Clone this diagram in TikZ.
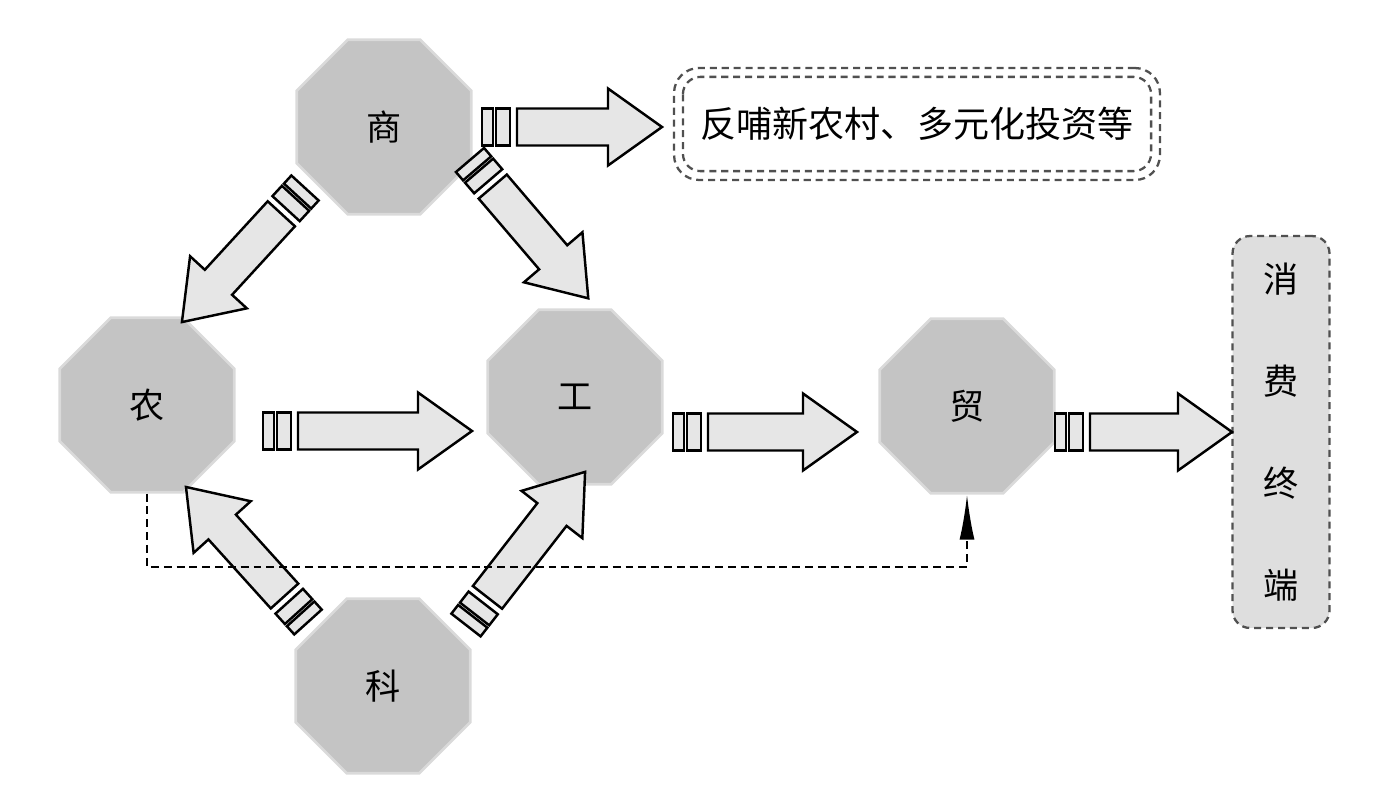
\documentclass[tikz,border=0pt]{standalone}
\usepackage{fontspec}
\newfontfamily\cjk{Noto Sans CJK SC}
\usetikzlibrary{shapes.geometric,arrows.meta}

\definecolor{octfill}{HTML}{C4C4C4}
\definecolor{octrim}{HTML}{DADADA}
\definecolor{arrfill}{HTML}{E6E6E6}
\definecolor{boxfill}{HTML}{DEDEDE}
\definecolor{dashgray}{HTML}{505050}

\tikzset{
  pics/fatarrow/.style={code={
    \draw[arrline] (0,-18.5) rectangle (11,18.5);
    \draw[arrline] (14,-18.5) rectangle (28,18.5);
    \draw[arrline] (35,-18.5) -- (#1-54,-18.5) -- (#1-54,-38.5) -- (#1,0)
      -- (#1-54,38.5) -- (#1-54,18.5) -- (35,18.5) -- cycle;
  }}
}

\begin{document}
\begin{tikzpicture}[x=0.02cm, y=-0.02cm,
  oct/.style={regular polygon, regular polygon sides=8, minimum size=3.78cm,
    inner sep=0pt, fill=octfill, draw=octrim, line width=1.5pt,
    font=\cjk\fontsize{20}{24}\selectfont},
  arrline/.style={draw=black, fill=arrfill, line width=1.4pt, line join=miter},
  fbbox/.style={draw=dashgray, line width=1.3pt, dash pattern=on 4pt off 2.8pt,
    rounded corners=0.5cm, minimum width=9.72cm, minimum height=2.24cm,
    font=\cjk\fontsize{20.5}{24}\selectfont},
  endbox/.style={draw=dashgray, fill=boxfill, line width=1.3pt,
    dash pattern=on 4pt off 2.8pt, rounded corners=0.35cm,
    minimum width=1.94cm, minimum height=7.84cm, align=center,
    font=\cjk\fontsize{20}{58}\selectfont},
  dashline/.style={line width=1.2pt, dash pattern=on 4.5pt off 2.8pt}]

  \useasboundingbox (0,0) rectangle (1396,798);

  \node[oct] (shang) at (384,127) {商};
  \node[oct] (nong) at (147,405) {农};
  \node[oct] (gong) at (575,397) {工};
  \node[oct] (mao) at (967,406) {贸};
  \node[oct] (ke) at (383,686) {科};

  \node[fbbox] (fb) at (917,124) {反哺新农村、多元化投资等};
  \draw[dashgray, line width=1.3pt, dash pattern=on 4pt off 2.8pt, rounded corners=0.35cm]
    ([shift={(10,10)}]fb.north west) rectangle ([shift={(-10,-10)}]fb.south east);
  \node[endbox] (xf) at (1281,432) {消\\费\\终\\端};

  \coordinate (sh-t1) at (482,127);  \coordinate (sh-h1) at (662,127);
  \coordinate (sh-t2) at (305,188);  \coordinate (sh-h2) at (182,322);
  \coordinate (sh-t3) at (470,160);  \coordinate (sh-h3) at (588,298);
  \coordinate (ng-t) at (263,431);   \coordinate (ng-h) at (472,431);
  \coordinate (gg-t) at (673,432);   \coordinate (gg-h) at (857,432);
  \coordinate (my-t) at (1055,432);  \coordinate (my-h) at (1232,432);
  \coordinate (ke-t1) at (308,622);  \coordinate (ke-h1) at (186,487);
  \coordinate (ke-t2) at (466,625);  \coordinate (ke-h2) at (585,472);

  \path (sh-t1) -- (sh-h1) pic[pos=0, sloped, allow upside down] {fatarrow=180};
  \path (sh-t2) -- (sh-h2) pic[pos=0, sloped, allow upside down] {fatarrow=182};
  \path (sh-t3) -- (sh-h3) pic[pos=0, sloped, allow upside down] {fatarrow=182};
  \path (ng-t) -- (ng-h) pic[pos=0, sloped, allow upside down] {fatarrow=209};
  \path (gg-t) -- (gg-h) pic[pos=0, sloped, allow upside down] {fatarrow=184};
  \path (my-t) -- (my-h) pic[pos=0, sloped, allow upside down] {fatarrow=177};
  \path (ke-t1) -- (ke-h1) pic[pos=0, sloped, allow upside down] {fatarrow=182};
  \path (ke-t2) -- (ke-h2) pic[pos=0, sloped, allow upside down] {fatarrow=194};

  \draw[dashline, -{Latex[length=9mm, width=3mm]}]
    (nong.south) -- ++(0,73) -| (mao.south);
\end{tikzpicture}
\end{document}
